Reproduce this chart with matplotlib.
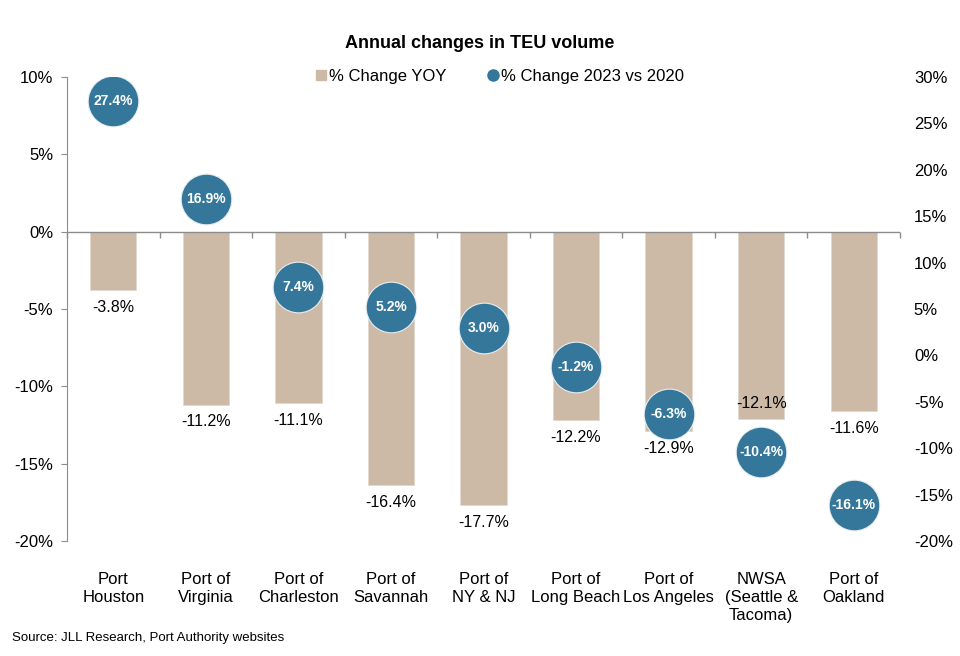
import numpy as np
import matplotlib
matplotlib.use('Agg')
from matplotlib import pyplot as plt
from matplotlib.ticker import FuncFormatter, MultipleLocator
from matplotlib.lines import Line2D

ports = ['Port\nHouston', 'Port of\nVirginia', 'Port of\nCharleston', 'Port of\nSavannah',
         'Port of\nNY & NJ', 'Port of\nLong Beach', 'Port of\nLos Angeles',
         'NWSA\n(Seattle &\nTacoma)', 'Port of\nOakland']
change_yoy = [-3.8, -11.2, -11.1, -16.4, -17.7, -12.2, -12.9, -12.1, -11.6]
change_vs_2020 = [27.4, 16.9, 7.4, 5.2, 3.0, -1.2, -6.3, -10.4, -16.1]
# labels that sit inside the bar end (bubble is right below)
inside_label = [False, False, False, False, False, False, False, True, False]

BAR_COLOR = '#CCB9A6'
DOT_COLOR = '#35779A'
GRAY = '#8C8C8C'
FONT = ['Liberation Sans', 'DejaVu Sans']
NARROW = ['Liberation Sans Narrow', 'Liberation Sans', 'DejaVu Sans']

plt.rcParams['font.family'] = FONT

fig = plt.figure(figsize=(9.6, 6.56), dpi=100)
ax = fig.add_axes([0.0698, 0.1753, 0.8677, 0.7073])

x = np.arange(len(ports))
ax.bar(x, change_yoy, width=0.5, color=BAR_COLOR, edgecolor='#E3D8CD', linewidth=0.6, zorder=2)
ax.set_xlim(-0.5, len(ports) - 0.5)
ax.set_ylim(-20, 10)
ax.yaxis.set_major_locator(MultipleLocator(5))
ax.yaxis.set_major_formatter(FuncFormatter(lambda v, p: f'{v:.0f}%'))
ax.tick_params(axis='y', length=4, color=GRAY, labelsize=12, pad=6)

for s in ['top', 'right', 'bottom']:
    ax.spines[s].set_visible(False)
ax.spines['left'].set_color(GRAY)

ax.set_xticks(x)
ax.set_xticklabels(ports, family=NARROW, fontsize=12, linespacing=1.25)
ax.tick_params(axis='x', length=0, pad=22)

# zero line with small separators between categories
ax.axhline(0, color=GRAY, lw=1, zorder=3)
bounds = np.arange(len(ports) + 1) - 0.5
ax.plot(bounds, np.zeros(len(bounds)), ls='', marker=3, ms=4, mew=1, color=GRAY,
        clip_on=False, zorder=3)

for xi, v, inside in zip(x, change_yoy, inside_label):
    off = 15 if inside else -17
    ax.annotate(f'{v:.1f}%', (xi, v), xytext=(0, off), textcoords='offset pixels',
                ha='center', va='center', fontsize=11.5, zorder=4)

ax2 = ax.twinx()
ax2.set_ylim(-20, 30)
ax2.yaxis.set_major_locator(MultipleLocator(5))
ax2.yaxis.set_major_formatter(FuncFormatter(lambda v, p: f'{v:.0f}%'))
ax2.tick_params(axis='y', length=0, labelsize=12, pad=10)
for s in ax2.spines.values():
    s.set_visible(False)

ax2.plot(x, change_vs_2020, 'o', ms=36.5, color=DOT_COLOR, mec='#E8EEF2', mew=0.8, zorder=5)
for xi, v in zip(x, change_vs_2020):
    ax2.text(xi, v, f'{v:.1f}%', ha='center', va='center', color='white', fontsize=10,
             fontweight='bold', zorder=6)

fig.text(0.5, 0.934, 'Annual changes in TEU volume', ha='center', va='center',
         fontsize=13, fontweight='bold')

handles = [Line2D([], [], marker='s', ls='', color=BAR_COLOR, ms=7),
           Line2D([], [], marker='o', ls='', color=DOT_COLOR, ms=8)]
fig.legend(handles, ['% Change YOY', '% Change 2023 vs 2020'], loc='center',
           bbox_to_anchor=(0.52, 0.883), ncol=2, frameon=False, fontsize=12,
           handletextpad=0.05, columnspacing=2.4, handlelength=0.8)

fig.text(0.012, 0.027, 'Source: JLL Research, Port Authority websites', ha='left', va='center',
         fontsize=9.5, family=NARROW)

fig.savefig('out.png', dpi=100)
